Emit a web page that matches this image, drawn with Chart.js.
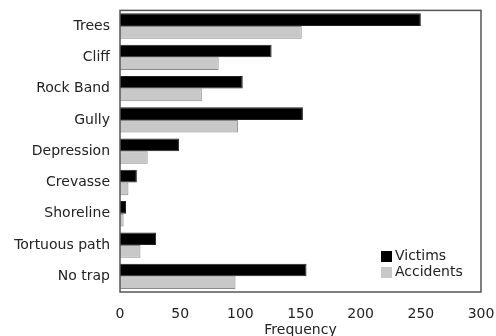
<!DOCTYPE html>
<html>
<head>
<meta charset="utf-8">
<script src="https://cdn.jsdelivr.net/npm/chart.js@4"></script>
<style>
  html, body { margin: 0; padding: 0; background: #fff; }
  #wrap { width: 496px; height: 336px; }
</style>
</head>
<body>
<div id="wrap"><canvas id="chart" width="496" height="336"></canvas></div>
<script>
const categories = ["Trees", "Cliff", "Rock Band", "Gully", "Depression", "Crevasse", "Shoreline", "Tortuous path", "No trap"];
const victims = [250, 126, 102, 152, 49, 14, 5, 30, 155];
const accidents = [151, 82, 68, 98, 23, 7, 3, 17, 96];
const xTicks = [0, 50, 100, 150, 200, 250, 300];

const FONT = "'DejaVu Sans', Verdana, sans-serif";

// frame round the plot area and the legend in its lower right corner
const framePlugin = {
  id: "frame",
  afterDraw(c) {
    const a = c.chartArea;
    const g = c.ctx;
    g.save();
    g.strokeStyle = "#555";
    g.lineWidth = 1.5;
    g.strokeRect(a.left, a.top, a.right - a.left, a.bottom - a.top);

    g.font = "14px " + FONT;
    g.textBaseline = "middle";
    g.textAlign = "left";
    c.data.datasets.forEach((ds, i) => {
      const y = a.bottom - 36 + i * 16;
      g.fillStyle = ds.backgroundColor;
      g.fillRect(a.right - 100, y - 5, 11, 11);
      g.fillStyle = "#222";
      g.fillText(ds.label, a.right - 86, y);
    });
    g.restore();
  }
};

const ctx = document.getElementById("chart").getContext("2d");
new Chart(ctx, {
  type: "bar",
  data: {
    labels: categories,
    datasets: [
      { label: "Victims", data: victims, backgroundColor: "#000000", borderColor: "#222", borderWidth: 1 },
      { label: "Accidents", data: accidents, backgroundColor: "#c8c8c8", borderColor: "#8a8a8a", borderWidth: 1 }
    ]
  },
  options: {
    indexAxis: "y",
    responsive: false,
    animation: false,
    layout: { padding: { top: 10, right: 0, left: 0, bottom: 0 } },
    datasets: { bar: { categoryPercentage: 0.81, barPercentage: 1.0 } },
    plugins: {
      legend: { display: false },
      tooltip: { enabled: false }
    },
    scales: {
      x: {
        min: 0,
        max: 300,
        afterBuildTicks: s => { s.ticks = xTicks.map(v => ({ value: v })); },
        afterFit: s => { s.height = 44; s.paddingRight = 15; s.paddingLeft = 0; },
        grid: { display: false },
        border: { display: false },
        ticks: { color: "#222", font: { family: FONT, size: 14 }, padding: 6, maxRotation: 0 },
        title: { display: true, text: "Frequency", color: "#222", font: { family: FONT, size: 14 }, padding: { top: 2, bottom: -3 } }
      },
      y: {
        afterFit: s => { s.width = 120; },
        grid: { display: false },
        border: { display: false },
        ticks: { color: "#222", font: { family: FONT, size: 14 }, padding: 2 }
      }
    }
  },
  plugins: [framePlugin]
});
</script>
</body>
</html>
